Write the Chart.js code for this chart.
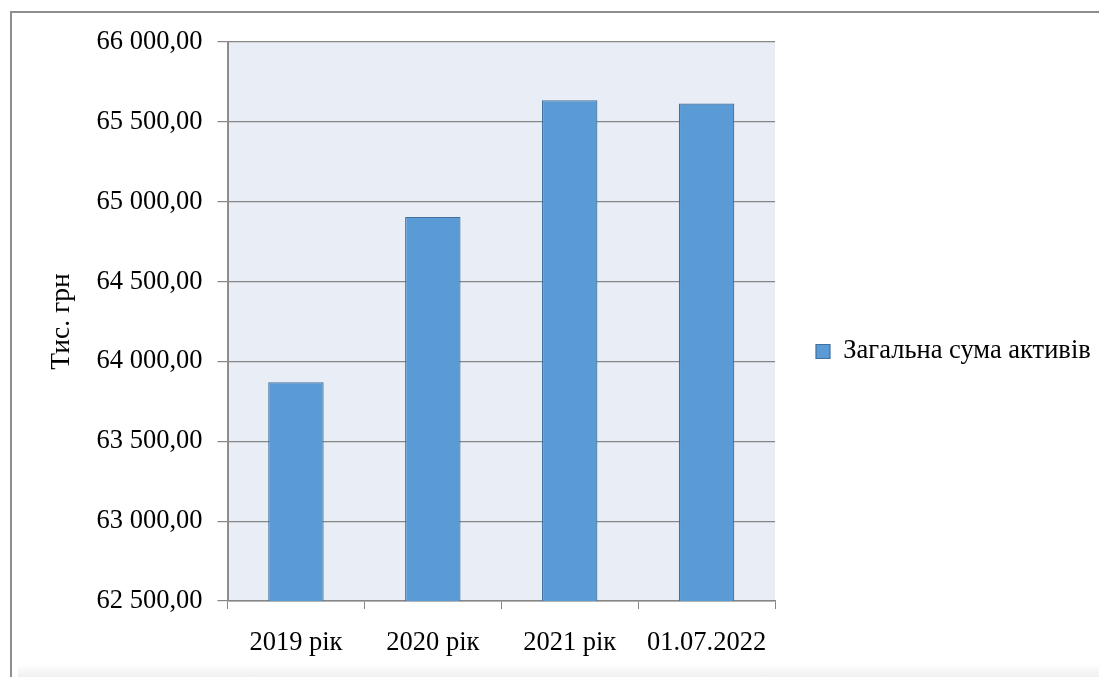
<!DOCTYPE html>
<html><head><meta charset="utf-8">
<script src="https://cdn.jsdelivr.net/npm/chart.js@4/dist/chart.umd.min.js"></script>
<style>
html,body{margin:0;padding:0;background:#fff;}
#wrap{position:relative;width:1099px;height:677px;overflow:hidden;font-family:'Liberation Serif',serif;}
#frame{position:absolute;left:10px;top:11px;width:1200px;height:800px;border-top:2px solid #8e8e8e;border-left:2px solid #8e8e8e;}
#fade{position:absolute;left:18px;top:664px;width:1100px;height:13px;background:linear-gradient(#ffffff,#f0f0f0);}
canvas{position:absolute;left:0;top:0;}
</style></head>
<body><div id="wrap"><div id="frame"></div><div id="fade"></div><canvas id="c" width="1099" height="677"></canvas></div>
<script>
const categories = ["2019 рік", "2020 рік", "2021 рік", "01.07.2022"];
const seriesName = "Загальна сума активів";
const values = [63870, 64905, 65635, 65615];
const yMin = 62500, yMax = 66000, yStep = 500;
const yTitle = "Тис. грн";

function fmt(v){
  const s = Math.round(v).toString().replace(/\B(?=(\d{3})+(?!\d))/g, " ");
  return s + ",00";
}
const FONT = "'Liberation Serif'";
const bgPlugin = {
  id:'plotBg',
  beforeDraw(chart){
    const a = chart.chartArea, ctx = chart.ctx;
    ctx.save(); ctx.fillStyle = '#E9EDF6';
    ctx.fillRect(a.left, a.top, a.right-a.left, a.bottom-a.top);
    ctx.restore();
  }
};
function build(){
new Chart(document.getElementById('c'), {
  type:'bar',
  data:{labels:categories, datasets:[{label:seriesName, data:values,
    backgroundColor:'#5B9BD5', borderColor:'#41719C', borderWidth:1.2,
    barPercentage:0.405, categoryPercentage:1}]},
  options:{
    responsive:false, animation:false,
    layout:{padding:{left:42, top:42, right:0, bottom:16}},
    plugins:{
      legend:{position:'right', maxWidth:324,
        labels:{font:{family:FONT,size:26.5}, color:'#000', boxWidth:14, boxHeight:14, padding:41}},
      tooltip:{enabled:false}
    },
    scales:{
      x:{
        afterFit(s){ s.height = 60; },
        grid:{offset:true, drawOnChartArea:false, color:'#868686', tickLength:8, lineWidth:1},
        border:{color:'#868686', width:1.5},
        ticks:{font:{family:FONT,size:26.5}, color:'#000', padding:18, maxRotation:0}
      },
      y:{
        min:yMin, max:yMax,
        afterFit(s){ s.width = 185.5; },
        grid:{color:'#868686', tickLength:10, lineWidth:1.2},
        border:{color:'#8c8c8c', width:2},
        ticks:{stepSize:yStep, font:{family:FONT,size:26.5}, color:'#000', padding:15, callback:v=>fmt(v)},
        title:{display:true, text:yTitle, font:{family:FONT,size:27.5}, color:'#000', padding:{top:3,bottom:18}}
      }
    }
  },
  plugins:[bgPlugin]
});
}
Promise.all([document.fonts.load("26px 'Liberation Serif'", "Загальна 0123"), document.fonts.load("25px 'Liberation Serif'", "рік")])
  .then(build, build);
</script></body></html>
